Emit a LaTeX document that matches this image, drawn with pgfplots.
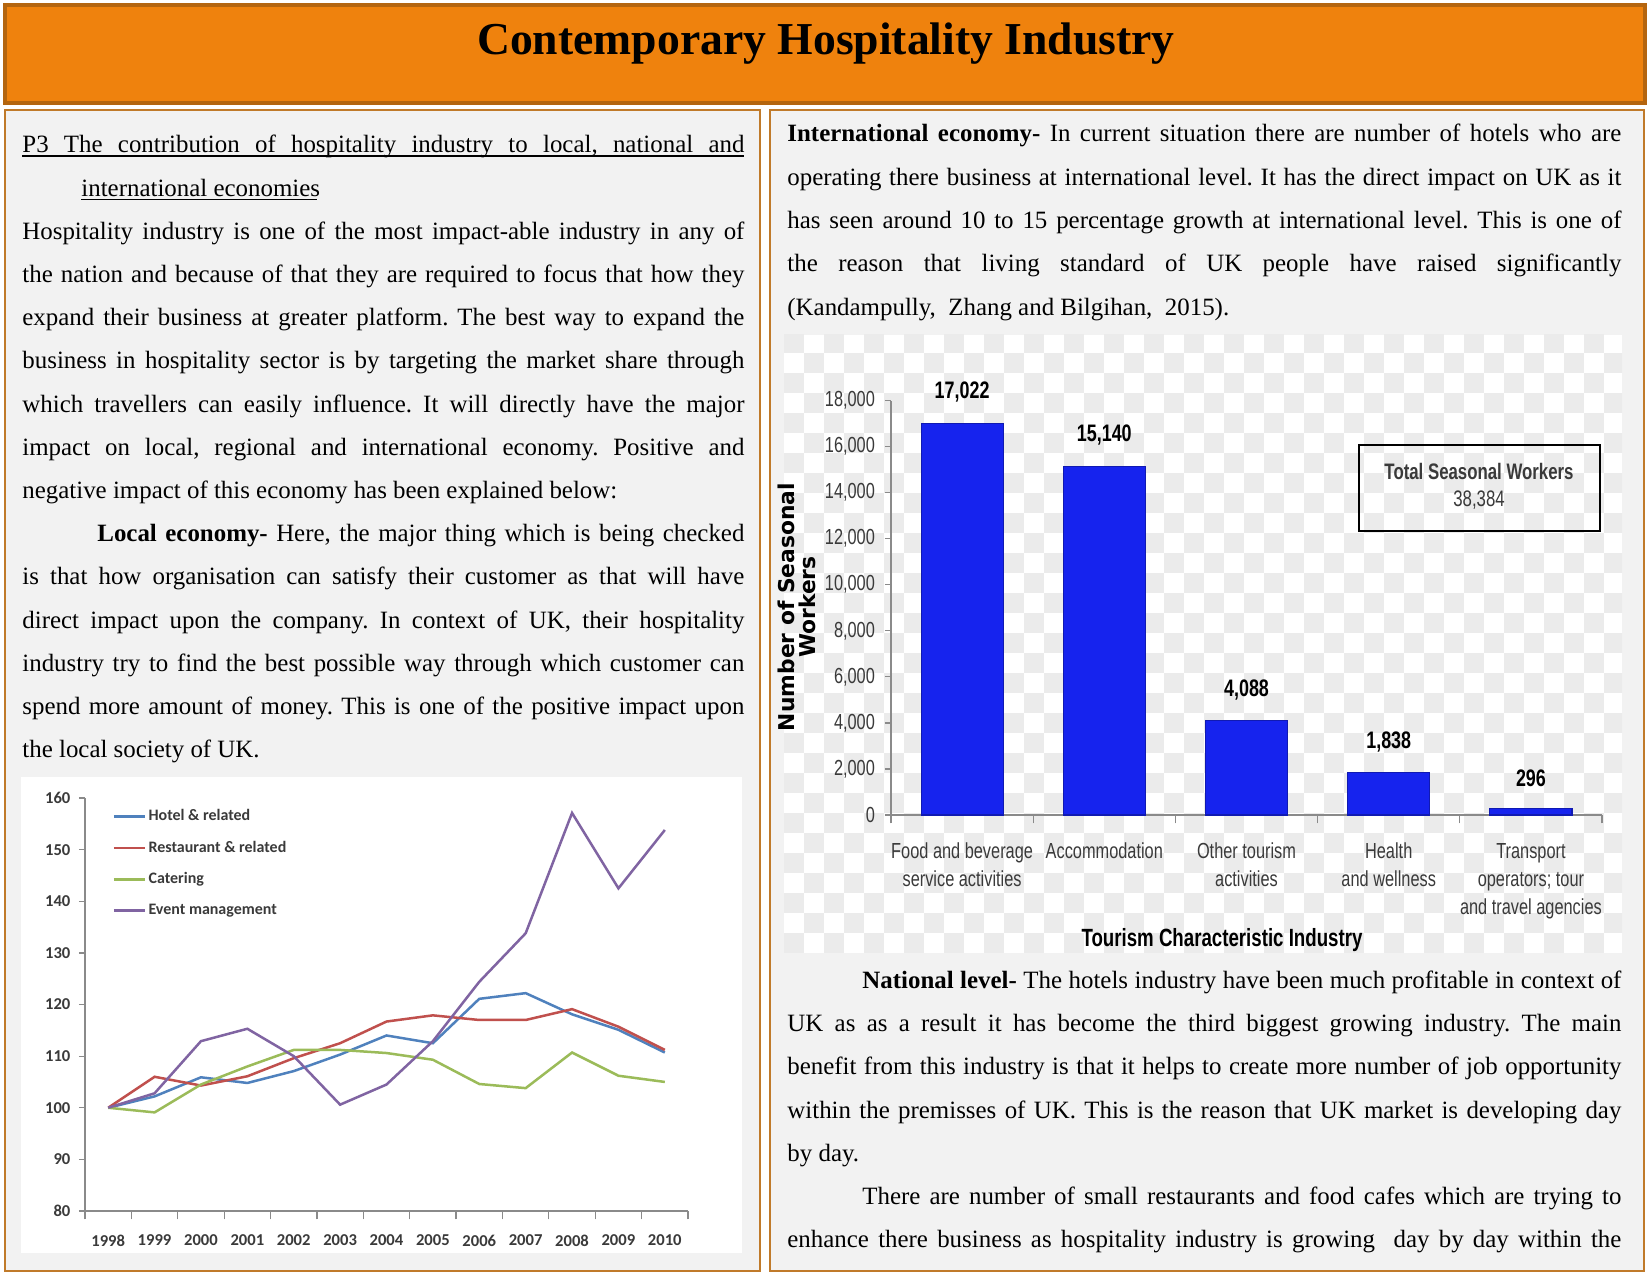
\documentclass[border=0pt]{standalone}
\usepackage{fontspec}
\setmainfont{Liberation Serif}
\newfontfamily\carl{Carlito}
\newfontfamily\cond[FakeStretch=0.75]{Liberation Sans}
\newfontfamily\dejavu{DejaVu Sans}
\usepackage{graphicx}
\usepackage{pgfplots}
\usepackage{pgfplotstable}
\pgfplotsset{compat=1.18}
\frenchspacing
\definecolor{titleor}{HTML}{EF820D}
\definecolor{titlebd}{HTML}{B4650F}
\definecolor{boxbd}{HTML}{C07A2A}
\definecolor{boxbg}{HTML}{F2F2F2}
\definecolor{hotel}{HTML}{4F81BD}
\definecolor{rest}{HTML}{C0504D}
\definecolor{cater}{HTML}{9BBB59}
\definecolor{event}{HTML}{8064A2}
\definecolor{axgray}{HTML}{8A8A8A}
\definecolor{ticktext}{HTML}{3A3A3A}
\definecolor{barblue}{HTML}{1623EE}
\definecolor{checker}{HTML}{EBEBEB}

\newlength\natw
\newcommand\J[2]{\settowidth{\natw}{#2}\ifdim\natw>#1\relax\resizebox{#1}{\height}{#2}\else\makebox[#1][s]{#2}\fi}

\pgfplotstableread{
year hotel rest cater event
1998 100   100   100   100
1999 102.2 106.0 99.1  102.8
2000 105.9 104.3 104.5 112.9
2001 104.8 106.1 108.0 115.3
2002 107.1 109.6 111.2 110.0
2003 110.3 112.5 111.2 100.6
2004 114.0 116.7 110.6 104.5
2005 112.5 117.9 109.3 112.9
2006 121.1 117.0 104.6 124.4
2007 122.2 117.0 103.8 133.8
2008 118.1 119.1 110.7 157.1
2009 115.1 115.7 106.2 142.5
2010 110.7 111.2 105.0 153.8
}\linedata

\pgfplotstableread{
pos workers
0 17022
1 15140
2 4088
3 1838
4 296
}\bardata

\begin{document}
\begin{tikzpicture}[x=0.48bp,y=0.48bp]
\useasboundingbox (0,0) rectangle (1651,1275);
\fill[white] (0,0) rectangle (1651,1275);
\coordinate (lineorigin) at (85,64);
\coordinate (barorigin) at (891,460);
% title bar
\filldraw[fill=titleor, draw=titlebd, line width=1.5bp] (5,1172) rectangle (1645,1270);
\node[anchor=base, inner sep=0pt, font=\bfseries\fontsize{22}{24}\selectfont] at (826,1220) {Contemporary Hospitality Industry};
% column boxes
\filldraw[fill=boxbg, draw=boxbd, line width=1bp] (5,4) rectangle (760,1165);
\filldraw[fill=boxbg, draw=boxbd, line width=1bp] (770,4) rectangle (1644,1165);

\begin{scope}[every node/.style={anchor=base west, inner sep=0pt, font=\fontsize{12}{14}\selectfont}]
% left column
\node at (22,1122.0) {\J{346.56bp}{P3 The contribution of hospitality industry to local, national and}};
\draw[line width=0.5bp] (22,1119) -- (744,1119);
\node at (81,1078.8) {international economies};
\draw[line width=0.5bp] (81,1075.8) -- (317,1075.8);
\node at (22,1035.6) {\J{346.56bp}{Hospitality industry is one of the most impact-able industry in any of}};
\node at (22,992.4) {\J{346.56bp}{the nation and because of that they are required to focus that how they}};
\node at (22,949.2) {\J{346.56bp}{expand their business at greater platform. The best way to expand the}};
\node at (22,906.0) {\J{346.56bp}{business in hospitality sector is by targeting the market share through}};
\node at (22,862.8) {\J{346.56bp}{which travellers can easily influence. It will directly have the major}};
\node at (22,819.6) {\J{346.56bp}{impact on local, regional and international economy. Positive and}};
\node at (22,776.4) {negative impact of this economy has been explained below:};
\node at (97,733.2) {\J{310.56bp}{\textbf{Local economy-} Here, the major thing which is being checked}};
\node at (22,690.0) {\J{346.56bp}{is that how organisation can satisfy their customer as that will have}};
\node at (22,646.8) {\J{346.56bp}{direct impact upon the company. In context of UK, their hospitality}};
\node at (22,603.6) {\J{346.56bp}{industry try to find the best possible way through which customer can}};
\node at (22,560.4) {\J{346.56bp}{spend more amount of money. This is one of the positive impact upon}};
\node at (22,517.2) {the local society of UK.};
% right column top
\node at (787,1133.0) {\J{400.32bp}{\textbf{International economy-} In current situation there are number of hotels who are}};
\node at (787,1089.7) {\J{400.32bp}{operating there business at international level. It has the direct impact on UK as it}};
\node at (787,1046.4) {\J{400.32bp}{has seen around 10 to 15 percentage growth at international level. This is one of}};
\node at (787,1003.0) {\J{400.32bp}{the reason that living standard of UK people have raised significantly}};
\node at (787,959.8) {(Kandampully,\ \ Zhang and Bilgihan,\ \ 2015).};
% right column bottom
\node at (862,287.0) {\J{364.32bp}{\textbf{National level-} The hotels industry have been much profitable in context of}};
\node at (787,243.7) {\J{400.32bp}{UK as as a result it has become the third biggest growing industry. The main}};
\node at (787,200.4) {\J{400.32bp}{benefit from this industry is that it helps to create more number of job opportunity}};
\node at (787,157.0) {\J{400.32bp}{within the premisses of UK. This is the reason that UK market is developing day}};
\node at (787,113.8) {by day.};
\node at (862,70.5) {\J{364.32bp}{There are number of small restaurants and food cafes which are trying to}};
\node at (787,27.2) {\J{400.32bp}{enhance there business as hospitality industry is growing\ \ day by day within the}};
\end{scope}

% line chart background
\fill[white] (21,22) rectangle (742,498);
\begin{axis}[
  at={(lineorigin)}, anchor=south west, scale only axis,
  width=289.44bp, height=198.24bp,
  xmin=1997.5, xmax=2010.5, ymin=80, ymax=160,
  axis x line=bottom, axis y line=left,
  axis line style={-, draw=axgray, line width=0.8bp},
  xtick={1998,...,2010}, ytick={80,90,...,160},
  minor xtick={1997.5,1998.5,...,2010.5},
  major x tick style={draw=none},
  minor x tick style={draw=axgray, line width=0.6bp},
  y tick style={draw=axgray, line width=0.6bp},
  tick align=outside, major tick length=3bp, minor tick length=4bp,
  ticklabel style={font=\carl\bfseries\fontsize{8}{9}\selectfont, text=ticktext,
    /pgf/number format/assume math mode=true, /pgf/number format/1000 sep={}},
  x tick label style={yshift=-5bp},
  y tick label style={xshift=-0.5bp},
  legend style={at={(0.045,0.978)}, anchor=north west, draw=none, fill=none,
    font=\carl\bfseries\fontsize{7.7}{9}\selectfont, text=ticktext, row sep=6.2bp,
    inner sep=0pt, nodes={inner sep=1pt}},
  legend cell align=left,
  legend image code/.code={\draw[#1, line width=1.3bp] (0bp,0bp) -- (15bp,0bp);},
  clip=false,
]
\addplot[hotel, line width=1.2bp] table[x=year, y=hotel] {\linedata};
\addlegendentry{Hotel \& related}
\addplot[rest, line width=1.2bp] table[x=year, y=rest] {\linedata};
\addlegendentry{Restaurant \& related}
\addplot[cater, line width=1.2bp] table[x=year, y=cater] {\linedata};
\addlegendentry{Catering}
\addplot[event, line width=1.2bp] table[x=year, y=event] {\linedata};
\addlegendentry{Event management}
\end{axis}

% bar chart background (checkerboard)
\fill[white] (784,322) rectangle (1622,940);
\begin{scope}
\clip (784,322) rectangle (1622,940);
\foreach \i in {0,...,41}{
  \foreach \j in {0,...,30}{
    \pgfmathparse{int(mod(\i+\j,2))}
    \ifnum\pgfmathresult=0
      \fill[checker] ({784+20*\i},{322+20*\j}) rectangle ++(20,20);
    \fi
  }
}
\end{scope}
\begin{axis}[
  at={(barorigin)}, anchor=south west, scale only axis,
  width=341.28bp, height=198.9bp,
  xmin=-0.5, xmax=4.5, ymin=0, ymax=18000,
  axis x line=bottom, axis y line=left,
  axis line style={-, draw=axgray, line width=0.8bp},
  xtick={0,...,4}, ytick={0,2000,...,18000},
  minor xtick={-0.5,0.5,...,4.5},
  major x tick style={draw=none},
  minor x tick style={draw=axgray, line width=0.6bp},
  y tick style={draw=axgray, line width=0.6bp},
  tick align=outside, major tick length=3bp, minor tick length=4bp,
  scaled y ticks=false,
  xticklabels={{Food and beverage\\service activities},{Accommodation},{Other tourism\\activities},{Health\\and wellness},{Transport\\operators; tour\\and travel agencies}},
  ticklabel style={font=\cond\fontsize{10.5}{13.5}\selectfont, text=ticktext,
    /pgf/number format/assume math mode=true},
  x tick label style={align=center, yshift=-7bp},
  y tick label style={xshift=-1.2bp},
  clip=false,
]
\addplot[ybar, bar width=39.4bp, fill=barblue, draw=barblue!75!black, line width=0.5bp,
  nodes near coords, point meta=y,
  nodes near coords style={font=\cond\bfseries\fontsize{11.5}{13}\selectfont, text=black,
    /pgf/number format/assume math mode=true, yshift=6.5bp}]
  table[x=pos, y=workers] {\bardata};
\end{axis}
% y label and x label of bar chart
\node[rotate=90, align=center, font=\dejavu\bfseries\fontsize{10.5}{9.8}\selectfont] at (797,668) {Number of Seasonal\\Workers};
\node[font=\cond\bfseries\fontsize{12}{13}\selectfont] at (1222,335) {Tourism Characteristic Industry};
% total box
\draw[line width=1.1bp] (1359,744) rectangle (1600,830);
\node[font=\cond\bfseries\fontsize{10.8}{13}\selectfont, text=ticktext] at (1479,804) {Total Seasonal Workers};
\node[font=\cond\fontsize{10.8}{13}\selectfont, text=ticktext] at (1479,774.5) {38,384};
\end{tikzpicture}
\end{document}
